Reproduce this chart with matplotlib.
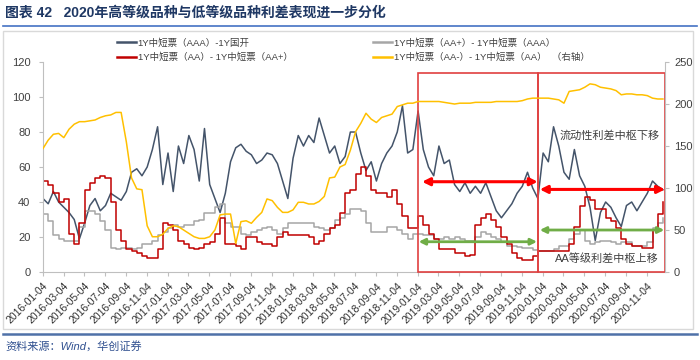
import matplotlib
matplotlib.use('Agg')
import matplotlib.pyplot as plt
import matplotlib.dates as mdates
from matplotlib.patches import Rectangle
from matplotlib.lines import Line2D
import pandas as pd

plt.rcParams['font.family'] = ['Liberation Sans', 'Noto Sans CJK SC']

# semi-monthly readings, 2016-01 .. 2020-12 (bp)
dates = pd.date_range('2016-01-04', '2020-12-20', periods=120)

aaa_gk = [42, 39, 46, 40, 37, 34, 30, 19, 28, 38,
          42, 35, 38, 45, 43, 41, 46, 57, 59, 55,
          60, 70, 83, 50, 68, 46, 72, 62, 78, 70,
          52, 82, 50, 42, 34, 45, 63, 71, 73, 69,
          67, 62, 64, 68, 67, 62, 52, 42, 65, 78,
          72, 78, 74, 88, 78, 68, 72, 62, 66, 80,
          80, 68, 58, 63, 52, 62, 68, 72, 80, 95,
          68, 70, 92, 70, 60, 55, 72, 62, 64, 50,
          46, 51, 45, 49, 45, 51, 43, 35, 31, 35,
          39, 45, 49, 57, 48, 42, 68, 63, 83, 72,
          57, 53, 70, 55, 49, 37, 18, 34, 40, 37,
          31, 26, 38, 40, 35, 40, 45, 52, 49, 47]

aa_aaplus = [52, 50, 45, 40, 42, 22, 16, 28, 47, 51,
             54, 55, 54, 40, 24, 18, 13, 12, 11, 9,
             8, 8, 13, 28, 27, 24, 18, 16, 14, 13,
             14, 16, 17, 22, 31, 16, 16, 15, 13, 20,
             20, 17, 16, 16, 15, 20, 23, 21, 21, 21,
             21, 20, 16, 18, 22, 25, 27, 34, 45, 47,
             56, 60, 55, 47, 45, 45, 43, 47, 39, 32,
             25, 25, 32, 27, 22, 19, 13, 13, 13, 11,
             11, 9, 10, 27, 31, 33, 30, 26, 20, 16,
             11, 8, 7, 7, 9, 12, 12, 12, 12, 12,
             12, 16, 26, 38, 43, 41, 36, 36, 31, 29,
             25, 19, 16, 15, 15, 14, 14, 24, 33, 40]

aaplus_aaa = [33, 29, 21, 19, 18, 18, 18, 26, 35, 35,
              33, 29, 24, 14, 13, 14, 14, 13, 14, 16,
              16, 18, 21, 23, 25, 27, 26, 27, 27, 29,
              30, 34, 34, 37, 39, 28, 26, 26, 22, 21,
              23, 24, 25, 26, 24, 22, 25, 28, 28, 28,
              28, 28, 26, 25, 24, 25, 30, 31, 33, 36,
              36, 35, 28, 23, 23, 23, 26, 26, 24, 22,
              19, 22, 22, 21, 21, 19, 19, 20, 19, 20,
              19, 18, 18, 20, 23, 22, 20, 19, 17, 15,
              15, 14.5, 13.5, 13.5, 12.5, 12, 12, 12, 13, 15,
              15, 19, 22, 24, 18, 16, 17, 18, 18, 17,
              16, 17, 17, 15, 15, 15, 17, 25, 28, 31]

aaminus_aa = [147, 157, 164, 165, 160, 170, 176, 179, 179, 180,
              181, 184, 186, 187, 190, 190, 155, 112, 99, 98,
              55, 42, 42, 45, 52, 55, 54, 50, 46, 42,
              40, 40, 42, 50, 68, 69, 69, 34, 60, 61,
              58, 65, 71, 87, 85, 77, 71, 71, 74, 83,
              83, 81, 81, 84, 90, 112, 113, 125, 128, 145,
              167, 177, 189, 182, 178, 184, 186, 188, 197, 199,
              201, 201, 203, 203, 203, 203, 203, 202, 201, 200,
              201, 201, 201, 202, 202, 202, 202, 203, 203, 203,
              203, 203, 204, 206, 207, 207, 207, 207, 206, 205,
              201, 215, 216, 217, 220, 224, 223, 220, 219, 218,
              216, 211, 212, 212, 211, 211, 210, 207, 206, 206]

labels = ['1Y中短票（AAA）-1Y国开', '1Y中短票（AA）- 1Y中短票（AA+）',
          '1Y中短票（AA+）- 1Y中短票（AAA）', '1Y中短票（AA-）- 1Y中短票（AA）  （右轴）']

# boxes and arrows (start, end, level on left axis)
boxes = [('2019-01-04', '2019-12-20'), ('2019-12-20', '2020-12-26')]
red_arrows = [('2019-01-16', '2019-12-20', 51.6), ('2019-12-26', '2020-12-26', 47.2)]
green_arrows = [('2019-01-06', '2019-12-18', 17.3), ('2019-12-26', '2020-12-24', 24)]

fig = plt.figure(figsize=(7, 3.6), dpi=100)
ax = fig.add_axes([0.0614, 0.2444, 0.8886, 0.5833])
ax2 = ax.twinx()

l1, = ax.plot(dates, aaa_gk, color='#44546A', lw=1.1)
l3, = ax.plot(dates, aaplus_aaa, color='#A6A6A6', lw=1.1, drawstyle='steps-post')
l2, = ax.plot(dates, aa_aaplus, color='#C00000', lw=1.1, drawstyle='steps-post')
l4, = ax2.plot(dates, aaminus_aa, color='#FFC000', lw=1.1)

ax.set_ylim(0, 120)
ax2.set_ylim(0, 250)
ax.set_yticks(range(0, 121, 20))
ax2.set_yticks(range(0, 251, 50))
ax.set_xlim(pd.Timestamp('2016-01-04'), pd.Timestamp('2020-12-26'))

ticks = pd.date_range('2016-01-04', '2020-11-04', freq=pd.DateOffset(months=2))
ax.set_xticks(ticks)
ax.set_xticklabels([d.strftime('%Y-%m-%d') for d in ticks], rotation=45,
                   ha='right', rotation_mode='anchor', fontsize=7.5)

for a in (ax, ax2):
    a.spines['top'].set_visible(False)
    for s in a.spines.values():
        s.set_color('#BFBFBF')
ax2.spines['left'].set_visible(False)
ax2.spines['bottom'].set_visible(False)
ax.spines['right'].set_visible(False)
ax.tick_params(axis='y', labelsize=8, color='#BFBFBF', labelcolor='#404040', length=3, pad=6)
ax.tick_params(axis='x', length=3, color='#BFBFBF', labelcolor='#303030')
ax2.tick_params(axis='y', labelsize=8, color='#BFBFBF', labelcolor='#404040', length=3)

for s, e in boxes:
    x0 = mdates.date2num(pd.Timestamp(s))
    x1 = mdates.date2num(pd.Timestamp(e))
    ax.add_patch(Rectangle((x0, 0), x1 - x0, 113.7, fill=False, ec='#E04040',
                           lw=1.2, clip_on=False, zorder=5))

for arrows, col, lw, ms in ((red_arrows, '#FF0000', 2.2, 11), (green_arrows, '#70AD47', 2.0, 9)):
    for s, e, v in arrows:
        ax.annotate('', xy=(pd.Timestamp(e), v), xytext=(pd.Timestamp(s), v),
                    arrowprops=dict(arrowstyle='<|-|>', color=col, lw=lw,
                                    mutation_scale=ms, shrinkA=0, shrinkB=0),
                    zorder=6, annotation_clip=False)

ax.text(pd.Timestamp('2020-07-16'), 77.7, '流动性利差中枢下移', ha='center', va='center',
        fontsize=8, color='#404040')
ax.text(pd.Timestamp('2020-07-10'), 7.4, 'AA等级利差中枢上移', ha='center', va='center',
        fontsize=8, color='#404040')

leg_kw = dict(loc='upper left', frameon=False, fontsize=6.8, handlelength=2.0,
              handletextpad=0.2, labelspacing=0.55, borderpad=0, borderaxespad=0,
              labelcolor='#404040')
leg1 = fig.legend(handles=[l1, l2], labels=[labels[0], labels[1]],
                  bbox_to_anchor=(117 / 700, 1 - 38 / 360), **leg_kw)
leg2 = fig.legend(handles=[l3, l4], labels=[labels[2], labels[3]],
                  bbox_to_anchor=(373 / 700, 1 - 38 / 360), **leg_kw)
for lg in (leg1, leg2):
    for h in lg.legend_handles:
        h.set_linewidth(1.8)

fig.text(5 / 700, 1 - 13 / 360, '图表 42   2020年高等级品种与低等级品种利差表现进一步分化',
         fontsize=10, fontweight='bold', color='#1F3864', va='center')
fig.add_artist(Line2D([3 / 700, 697 / 700], [1 - 26 / 360] * 2, color='#4472C4', lw=1.2))
fig.add_artist(Rectangle((3 / 700, 1 - 329 / 360), 690 / 700, 298 / 360, fill=False,
                         ec='#D9D9D9', lw=1, transform=fig.transFigure))
fig.add_artist(Line2D([3 / 700, 697 / 700], [1 - 334 / 360] * 2, color='#4F71A8', lw=1.8))
fig.text(5 / 700, 1 - 346 / 360, '资料来源：Wind，华创证券', fontsize=8, style='italic',
         color='#2F4F8F', va='center')

fig.savefig('out.png', dpi=100)
